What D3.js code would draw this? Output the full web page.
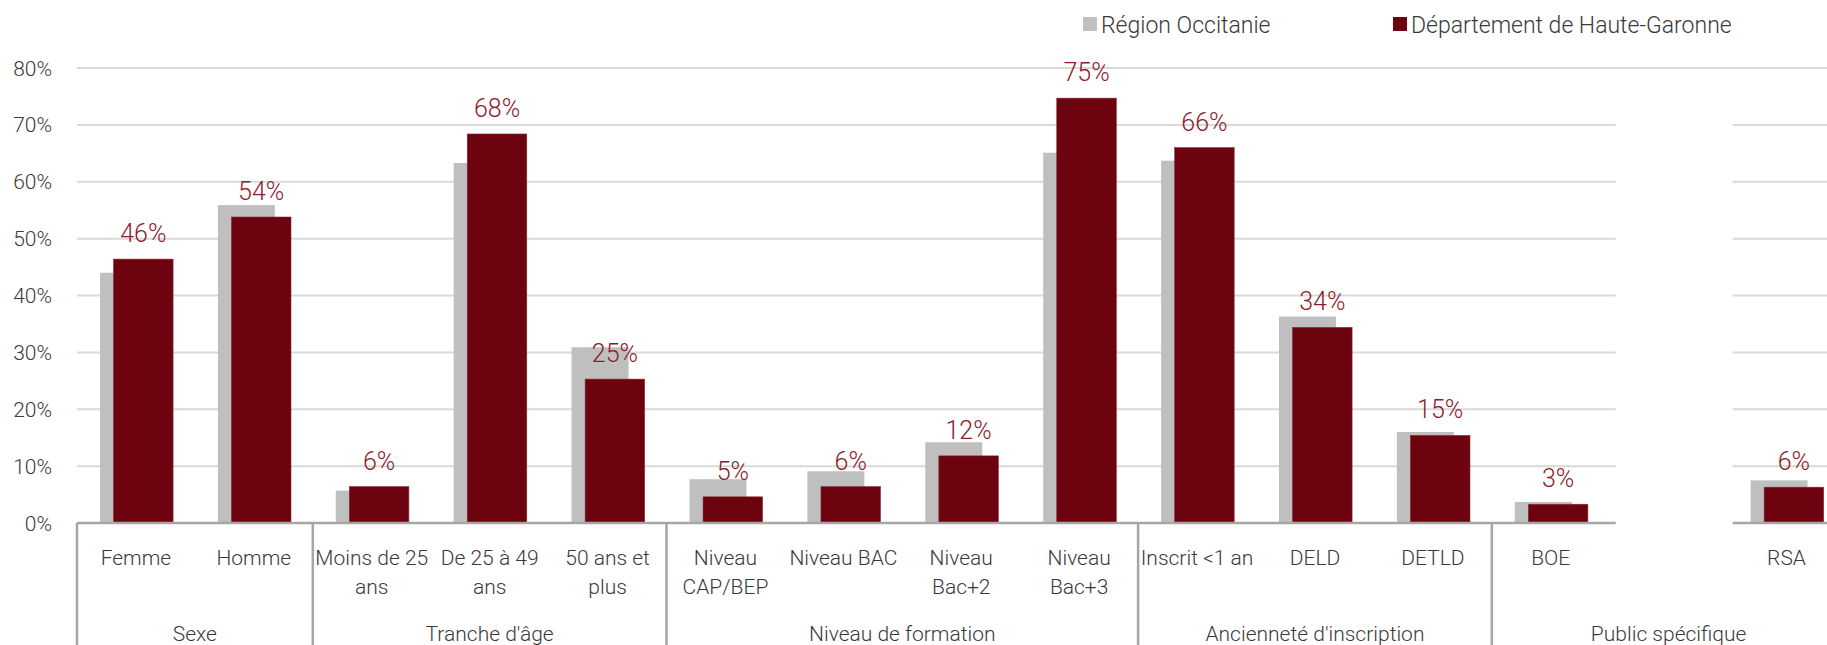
<!DOCTYPE html>
<html>
<head>
<meta charset="utf-8">
<script src="https://cdn.jsdelivr.net/npm/d3@7"></script>
<style>
  body { margin: 0; background: #fff; }
  text { font-family: Roboto, "Open Sans", "DejaVu Sans", sans-serif; font-weight: 300; }
</style>
</head>
<body>
<div id="chart"></div>
<script>
// chart data
const categories = ["Femme", "Homme", "Moins de 25\nans", "De 25 à 49\nans", "50 ans et\nplus",
  "Niveau\nCAP/BEP", "Niveau BAC", "Niveau\nBac+2", "Niveau\nBac+3",
  "Inscrit <1 an", "DELD", "DETLD", "BOE", "", "RSA"];
const groups = ["Sexe", "Tranche d'âge", "Niveau de formation", "Ancienneté d'inscription", "Public spécifique"];
const groupSizes = [2, 3, 4, 3, 3];
const region = [44.0, 55.9, 5.7, 63.3, 30.9, 7.7, 9.1, 14.2, 65.1, 63.7, 36.3, 16.0, 3.7, null, 7.5];
const departement = [46.4, 53.8, 6.4, 68.4, 25.3, 4.6, 6.4, 11.8, 74.7, 66.0, 34.4, 15.4, 3.3, null, 6.3];
const yTicks = [0, 10, 20, 30, 40, 50, 60, 70, 80];
const seriesNames = ["Région Occitanie", "Département de Haute-Garonne"];

const width = 1827, height = 645;
const margin = {top: 68, left: 77, bottom: 122};
const bandW = 117.9;
const colors = {region: "#bfbfbf", dept: "#6c030f", label: "#8e1b2c", text: "#3a3a3a", grid: "#d9d9d9", axis: "#a6a6a6"};

const svg = d3.select("#chart").append("svg")
  .attr("width", width).attr("height", height);

const x = d3.scaleBand()
  .domain(d3.range(categories.length))
  .range([margin.left, margin.left + bandW * categories.length]);

const y = d3.scaleLinear()
  .domain([0, 80])
  .range([height - margin.bottom, margin.top]);

// gridlines
svg.append("g").selectAll("line")
  .data(yTicks.filter(d => d > 0))
  .enter().append("line")
  .attr("x1", margin.left).attr("x2", width)
  .attr("y1", d => y(d)).attr("y2", d => y(d))
  .attr("stroke", colors.grid).attr("stroke-width", 2);

// y axis labels
svg.append("g").selectAll("text")
  .data(yTicks)
  .enter().append("text")
  .attr("x", 52).attr("y", d => y(d) + 7.5)
  .attr("text-anchor", "end")
  .attr("font-size", 21)
  .attr("fill", colors.text)
  .text(d => d + "%");

// bars: grey behind, maroon in front
const bw = x.bandwidth();
svg.append("g").selectAll("rect")
  .data(region.map((v, i) => ({v, i})).filter(d => d.v != null))
  .enter().append("rect")
  .attr("x", d => x(d.i) + bw * 0.195)
  .attr("width", bw * 0.483)
  .attr("y", d => y(d.v))
  .attr("height", d => y(0) - y(d.v))
  .attr("fill", colors.region);

svg.append("g").selectAll("rect")
  .data(departement.map((v, i) => ({v, i})).filter(d => d.v != null))
  .enter().append("rect")
  .attr("x", d => x(d.i) + bw * 0.31)
  .attr("width", bw * 0.505)
  .attr("y", d => y(d.v))
  .attr("height", d => y(0) - y(d.v))
  .attr("fill", colors.dept)
  .attr("stroke", "#8a2c38").attr("stroke-width", 0.6);

// data labels
svg.append("g").selectAll("text")
  .data(departement.map((v, i) => ({v, i})).filter(d => d.v != null))
  .enter().append("text")
  .attr("x", d => x(d.i) + bw * (0.31 + 0.505 / 2))
  .attr("y", d => y(d.v) - 17)
  .attr("text-anchor", "middle")
  .attr("font-size", 25)
  .attr("fill", colors.label)
  .text(d => Math.round(d.v) + "%");

// white cover over the empty category
svg.append("rect")
  .attr("x", x(13) + 6).attr("width", bw - 1)
  .attr("y", y(79)).attr("height", y(0) - y(79) + 3)
  .attr("fill", "#fff");

// x axis line
svg.append("line")
  .attr("x1", margin.left).attr("x2", x(13) + 6)
  .attr("y1", y(0)).attr("y2", y(0))
  .attr("stroke", colors.axis).attr("stroke-width", 2.5);
svg.append("line")
  .attr("x1", x(13) + 5 + bw).attr("x2", width)
  .attr("y1", y(0)).attr("y2", y(0))
  .attr("stroke", colors.axis).attr("stroke-width", 2.5);

// category labels
const catLabels = svg.append("g").selectAll("text")
  .data(categories)
  .enter().append("text")
  .attr("x", (d, i) => x(i) + bw / 2)
  .attr("y", y(0) + 42)
  .attr("text-anchor", "middle")
  .attr("font-size", 21)
  .attr("fill", colors.text);
catLabels.selectAll("tspan")
  .data(d => d.split("\n"))
  .enter().append("tspan")
  .attr("x", function() { return d3.select(this.parentNode).attr("x"); })
  .attr("dy", (d, i) => i ? 28.5 : 0)
  .text(d => d);

// group separators and labels
let start = 0;
const bounds = groupSizes.map(n => { const b = [start, start + n]; start += n; return b; });
svg.append("g").selectAll("line")
  .data(bounds)
  .enter().append("line")
  .attr("x1", d => x(d[0])).attr("x2", d => x(d[0]))
  .attr("y1", y(0)).attr("y2", height)
  .attr("stroke", colors.axis).attr("stroke-width", 2.5);
svg.append("g").selectAll("text")
  .data(bounds)
  .enter().append("text")
  .attr("x", d => (x(d[0]) + x(d[1] - 1) + bw) / 2)
  .attr("y", height - 4)
  .attr("text-anchor", "middle")
  .attr("font-size", 21)
  .attr("fill", colors.text)
  .text((d, i) => groups[i]);

// legend
const legend = svg.append("g").selectAll("g")
  .data(seriesNames)
  .enter().append("g")
  .attr("transform", (d, i) => `translate(${[1083, 1393][i]},17)`);
legend.append("rect")
  .attr("width", 14).attr("height", 14)
  .attr("fill", (d, i) => i ? colors.dept : colors.region);
legend.append("text")
  .attr("x", 18).attr("y", 15.5)
  .attr("font-size", 23)
  .attr("fill", colors.text)
  .text(d => d);
</script>
</body>
</html>
